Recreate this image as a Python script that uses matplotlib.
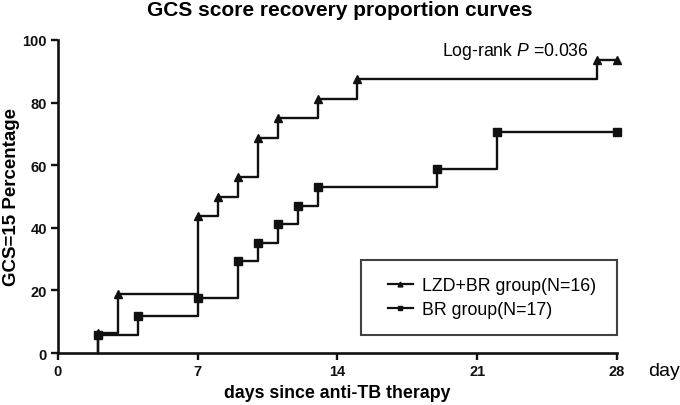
import matplotlib
matplotlib.use("Agg")
import matplotlib.pyplot as plt
from matplotlib.lines import Line2D
from matplotlib.legend_handler import HandlerLine2D

plt.rcParams['font.family'] = ['Liberation Sans', 'DejaVu Sans']
plt.rcParams['mathtext.fontset'] = 'custom'
plt.rcParams['mathtext.rm'] = 'Liberation Sans'
plt.rcParams['mathtext.it'] = 'Liberation Sans:italic'

# Data
lzd_days = [2, 3, 7, 8, 9, 10, 11, 13, 15, 27, 28]
lzd_vals = [6.25, 18.75, 43.75, 50.0, 56.25, 68.75, 75.0, 81.25, 87.5, 93.75, 93.75]
br_days = [2, 4, 7, 9, 10, 11, 12, 13, 19, 22, 28]
br_vals = [5.88, 11.76, 17.65, 29.41, 35.29, 41.18, 47.06, 52.94, 58.82, 70.59, 70.59]
x_ticks = [0, 7, 14, 21, 28]
y_ticks = [0, 20, 40, 60, 80, 100]
labels = ['LZD+BR group(N=16)', 'BR group(N=17)']

fig = plt.figure(figsize=(6.8, 4.06), dpi=100)
ax = fig.add_axes([58/680, 1 - 354/406, (617-58)/680, (354-41)/406])

for days, vals, mk, ms, lab in [(lzd_days, lzd_vals, '^', 5.5, labels[0]),
                                 (br_days, br_vals, 's', 5.5, labels[1])]:
    xs = [days[0]] + list(days)
    ys = [0] + list(vals)
    ax.step(xs, ys, where='post', color='#111111', lw=1.7, clip_on=False)
    ax.plot(days, vals, linestyle='none', marker=mk, ms=ms, color='#111111', clip_on=False)
    ax.plot([], [], color='#111111', lw=1.6, marker=mk, ms=3.5, label=lab)

ax.set_xlim(0, 28)
ax.set_ylim(0, 100)
ax.set_xticks(x_ticks)
ax.set_yticks(y_ticks)
for s in ['top', 'right']:
    ax.spines[s].set_visible(False)
for s in ['left', 'bottom']:
    ax.spines[s].set_linewidth(1.9)
    ax.spines[s].set_color('#111111')
ax.tick_params(direction='out', length=5, width=1.7, pad=3, colors='#111111')
for lbl in ax.get_xticklabels() + ax.get_yticklabels():
    lbl.set_fontweight('bold')
    lbl.set_fontsize(10.5)

ax.set_xlabel('days since anti-TB therapy', fontsize=12.8, fontweight='bold', labelpad=4)
ax.set_ylabel('GCS=15 Percentage', fontsize=13.5, fontweight='bold', labelpad=2)
fig.text(340/680, 1 - 10/406, 'GCS score recovery proportion curves', ha='center', va='center',
         fontsize=15, fontweight='bold')

ax.text(19.25, 96.8, 'Log-rank $\\mathit{P}$ =0.036', fontsize=12.7, va='center', ha='left')
fig.text(648/680, 1 - 371/406, 'day', fontsize=14, va='center', ha='left')

leg = ax.legend(loc='lower left', bbox_to_anchor=((361-58)/559, (354-336)/313, (617-361)/559, (336-257)/313),
                mode='expand', frameon=True, fancybox=False, fontsize=12.8, handlelength=1.97,
                borderpad=0.95, labelspacing=0.4, handletextpad=0.5, borderaxespad=0,
                handler_map={Line2D: HandlerLine2D(xpad=0.56)})
leg.get_frame().set_edgecolor('#111111')
leg.get_frame().set_linewidth(1.5)

fig.savefig('out.png', dpi=100)
